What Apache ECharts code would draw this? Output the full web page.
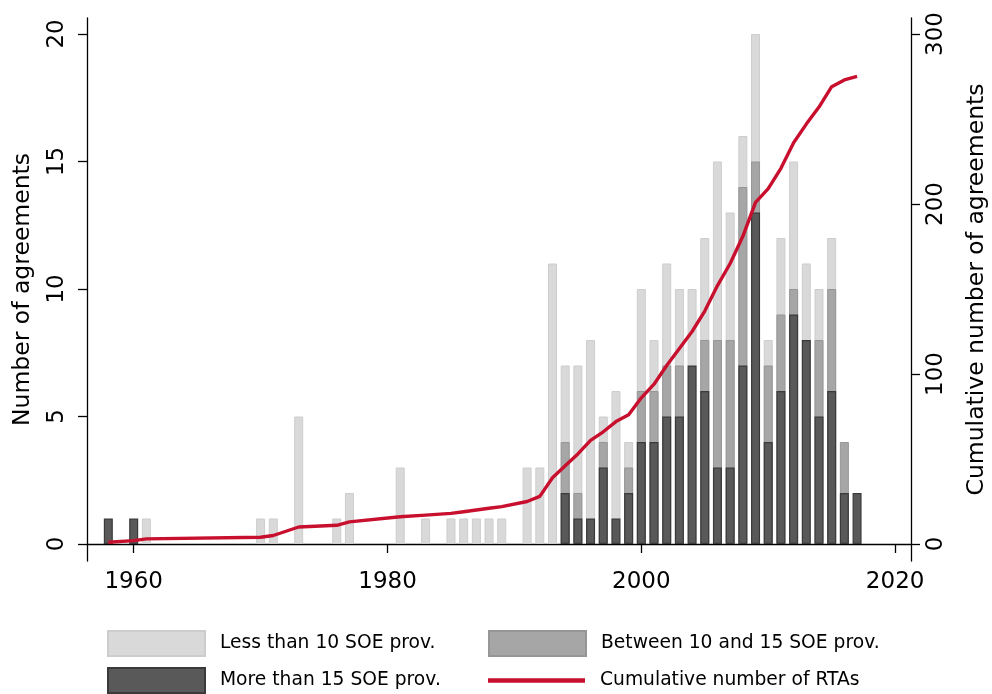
<!DOCTYPE html>
<html>
<head>
<meta charset="utf-8">
<script src="https://cdn.jsdelivr.net/npm/echarts@6/dist/echarts.min.js"></script>
<style>
html,body{margin:0;padding:0;background:#fff;}
#chart{width:992px;height:694px;}
</style>
</head>
<body>
<div id="chart"></div>
<script>
// Years with at least one agreement
var years = [1958,1960,1961,1970,1971,1973,1976,1977,1981,1983,1985,1986,1987,1988,1989,1991,1992,1993,1994,1995,1996,1997,1998,1999,2000,2001,2002,2003,2004,2005,2006,2007,2008,2009,2010,2011,2012,2013,2014,2015,2016,2017];
// Agreements per year by number of SOE provisions
var lessThan10 = [0,0,1,1,1,5,1,2,3,1,1,1,1,1,1,3,3,11,3,5,7,1,5,1,4,2,4,3,3,4,7,5,2,5,1,3,5,3,2,2,0,0];
var between10and15 = [0,0,0,0,0,0,0,0,0,0,0,0,0,0,0,0,0,0,2,1,0,1,0,1,2,2,2,2,0,2,5,5,7,2,3,3,1,0,3,4,2,0];
var moreThan15 = [1,1,0,0,0,0,0,0,0,0,0,0,0,0,0,0,0,0,2,1,1,3,1,2,4,4,5,5,7,6,3,3,7,13,4,6,9,8,5,6,2,2];
// Cumulative number of RTAs
var cumulative = [1,2,3,4,5,10,11,13,16,17,18,19,20,21,22,25,28,39,46,53,61,66,72,76,86,94,105,115,125,137,152,165,181,201,209,221,236,247,257,269,273,275];
var xTicks = [1960,1980,2000,2020];
var leftTicks = [0,5,10,15,20];
var rightTicks = [0,100,200,300];

// Overlaid bars: each layer drawn from 0 to the top of its band (same look as a stack)
function layer(parts, own){
  var out = [];
  years.forEach(function(y,i){
    if (own[i] === 0) return;
    var top = 0;
    parts.forEach(function(p){ top += p[i]; });
    out.push([y, top]);
  });
  return out;
}
function pairsLine(vals){
  return years.map(function(y,i){ return [y, vals[i]]; });
}

var FONT = 'DejaVu Sans';
var chart = echarts.init(document.getElementById('chart'), null, {renderer:'canvas'});
var barW = 9;
function legendOne(name, left, top, icon){
  return {
    orient: 'horizontal', left: left, top: top, padding: 0,
    itemWidth: 97, itemHeight: 25, selectedMode: false,
    textStyle: {fontSize: 18.7, color: '#000', fontFamily: FONT, padding: [0,0,0,10]},
    data: [{name: name, icon: icon}]
  };
}
var option = {
  animation: false,
  backgroundColor: '#ffffff',
  textStyle: {fontFamily: FONT, color: '#000'},
  grid: {left: 87, right: 81, top: 18, bottom: 133, containLabel: false, outerBoundsMode: 'none'},
  xAxis: {
    type: 'value', min: 1956.32, max: 2021.25,
    axisLine: {show: true, lineStyle: {color: '#000', width: 1.3}},
    axisTick: {show: true, length: 9, lineStyle: {color: '#000', width: 1.3}, customValues: xTicks},
    axisLabel: {fontSize: 23, color: '#000', fontFamily: FONT, margin: 10, customValues: xTicks,
      formatter: function(v){ return String(v); }},
    splitLine: {show: false}
  },
  yAxis: [{
    type: 'value', min: -0.667, max: 20.627, position: 'left',
    name: 'Number of agreements', nameLocation: 'middle', nameRotate: 90, nameGap: 52,
    nameTextStyle: {fontSize: 23.5, color: '#000', fontFamily: FONT},
    axisLine: {show: true, lineStyle: {color: '#000', width: 1.3}},
    axisTick: {show: true, length: 9, lineStyle: {color: '#000', width: 1.3}, customValues: leftTicks},
    axisLabel: {fontSize: 23, color: '#000', fontFamily: FONT, rotate: 90, margin: 18, customValues: leftTicks},
    splitLine: {show: false}
  },{
    type: 'value', min: -10, max: 309.4, position: 'right',
    name: 'Cumulative number of agreements', nameLocation: 'middle', nameRotate: 90, nameGap: 54,
    nameTextStyle: {fontSize: 23.5, color: '#000', fontFamily: FONT},
    axisLine: {show: true, lineStyle: {color: '#000', width: 1.3}},
    axisTick: {show: true, length: 9, lineStyle: {color: '#000', width: 1.3}, customValues: rightTicks},
    axisLabel: {fontSize: 23, color: '#000', fontFamily: FONT, rotate: 90, margin: 14, customValues: rightTicks},
    splitLine: {show: false}
  }],
  legend: [
    legendOne('Less than 10 SOE prov.', 107, 630, 'rect'),
    legendOne('More than 15 SOE prov.', 107, 667, 'rect'),
    legendOne('Between 10 and 15 SOE prov.', 488, 630, 'rect'),
    legendOne('Cumulative number of RTAs', 488, 671, 'path://M0,0 L97,0 L97,4.5 L0,4.5 Z')
  ],
  series: [{
    name: 'Less than 10 SOE prov.', type: 'bar', barWidth: barW, barGap: '-100%',
    itemStyle: {color: '#d9d9d9', borderColor: '#cdcdcd', borderWidth: 1},
    data: layer([moreThan15, between10and15, lessThan10], lessThan10)
  },{
    name: 'Between 10 and 15 SOE prov.', type: 'bar', barWidth: barW, barGap: '-100%',
    itemStyle: {color: '#a6a6a6', borderColor: '#969696', borderWidth: 1},
    data: layer([moreThan15, between10and15], between10and15)
  },{
    name: 'More than 15 SOE prov.', type: 'bar', barWidth: barW, barGap: '-100%',
    itemStyle: {color: '#595959', borderColor: '#3a3a3a', borderWidth: 1.2},
    data: layer([moreThan15], moreThan15)
  },{
    name: 'Cumulative number of RTAs', type: 'line', yAxisIndex: 1,
    showSymbol: false, symbol: 'none', z: 5,
    lineStyle: {color: '#c8102e', width: 3.4, join: 'round'},
    itemStyle: {color: '#c8102e'},
    data: pairsLine(cumulative)
  }]
};
chart.setOption(option);
</script>
</body>
</html>
